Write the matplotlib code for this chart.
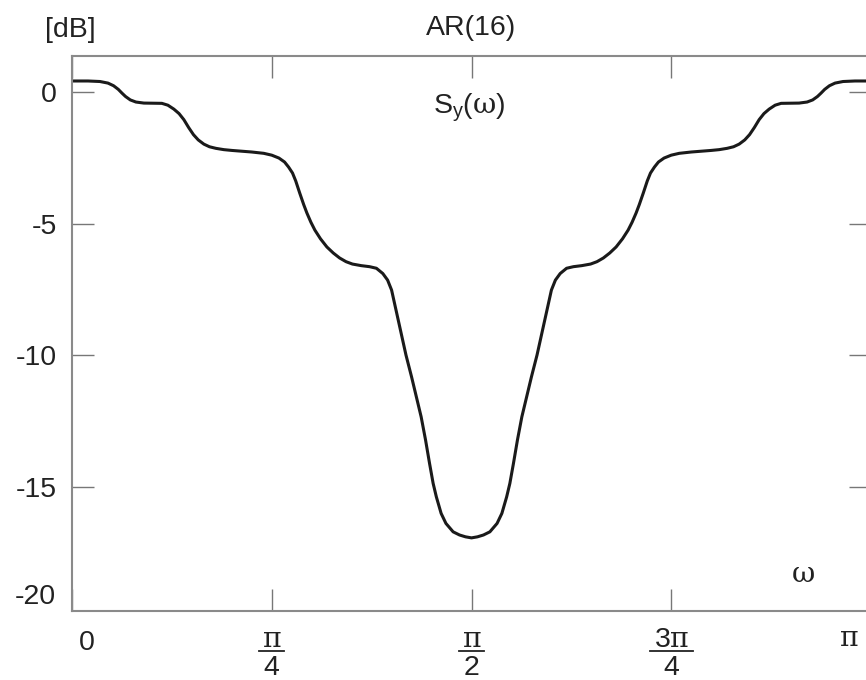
import numpy as np
import matplotlib
matplotlib.use("Agg")
import matplotlib.pyplot as plt
import matplotlib.transforms as mtransforms

plt.rcParams['font.family'] = ['Liberation Sans', 'DejaVu Sans']
plt.rcParams['mathtext.fontset'] = 'custom'
plt.rcParams['mathtext.rm'] = 'Liberation Sans'
plt.rcParams['mathtext.it'] = 'DejaVu Serif'
plt.rcParams['axes.unicode_minus'] = False

# frequency in units of pi and spectrum in dB
omega_left = [0, 0.02, 0.035, 0.045, 0.052, 0.058, 0.0625, 0.067, 0.073, 0.08, 0.09, 0.1125,
              0.12, 0.1275, 0.134, 0.14, 0.146, 0.152, 0.158, 0.165, 0.172, 0.18, 0.19, 0.2, 0.225, 0.24,
              0.25, 0.259, 0.266, 0.271, 0.276, 0.28, 0.285, 0.29, 0.294, 0.299, 0.304, 0.311, 0.319,
              0.327, 0.335, 0.343, 0.351, 0.362,
              0.3725, 0.381, 0.389, 0.395, 0.4, 0.406, 0.412, 0.418, 0.425, 0.431, 0.437, 0.4425,
              0.4475, 0.452, 0.456, 0.462, 0.468, 0.477, 0.485, 0.4925, 0.5]
db_left = [0.42, 0.42, 0.40, 0.34, 0.24, 0.10, -0.04, -0.17, -0.30, -0.38, -0.42, -0.43,
           -0.50, -0.65, -0.82, -1.05, -1.35, -1.62, -1.82, -1.98, -2.08, -2.14, -2.19, -2.22, -2.28, -2.33,
           -2.40, -2.51, -2.66, -2.85, -3.08, -3.38, -3.84, -4.28, -4.60, -4.95, -5.25, -5.58, -5.89,
           -6.12, -6.31, -6.45, -6.54, -6.60,
           -6.64, -6.70, -6.90, -7.15, -7.53, -8.35, -9.18, -10.0, -10.83, -11.59, -12.35, -13.23,
           -14.12, -14.88, -15.39, -16.02, -16.40, -16.72, -16.84, -16.91, -16.95]
omega_right = [0.5075, 0.515, 0.523, 0.532, 0.538, 0.544, 0.548, 0.5525, 0.5575, 0.563, 0.569, 0.575,
               0.582, 0.588, 0.594, 0.6, 0.605, 0.611, 0.619, 0.6275,
               0.638, 0.649, 0.657, 0.665, 0.673, 0.681, 0.689, 0.696, 0.701, 0.706, 0.71, 0.715,
               0.72, 0.724, 0.729, 0.734, 0.741, 0.75,
               0.76, 0.775, 0.8, 0.81, 0.82, 0.828, 0.835, 0.842, 0.848, 0.854, 0.86, 0.866, 0.8725, 0.88,
               0.8875, 0.91, 0.92, 0.927, 0.933, 0.9375, 0.942, 0.948, 0.955, 0.965, 0.98, 1.0]
db_right = [-16.91, -16.84, -16.72, -16.40, -16.02, -15.39, -14.88, -14.12, -13.23, -12.35, -11.59, -10.83,
            -10.0, -9.18, -8.35, -7.53, -7.15, -6.90, -6.70, -6.64,
            -6.60, -6.54, -6.45, -6.31, -6.12, -5.89, -5.58, -5.25, -4.95, -4.60, -4.28, -3.84,
            -3.38, -3.08, -2.85, -2.66, -2.51, -2.40,
            -2.33, -2.28, -2.22, -2.19, -2.14, -2.08, -1.98, -1.82, -1.62, -1.35, -1.05, -0.82, -0.65, -0.50,
            -0.43, -0.42, -0.38, -0.30, -0.17, -0.04, 0.10, 0.24, 0.34, 0.40, 0.42, 0.42]

xtick_vals = [0, np.pi / 4, np.pi / 2, 3 * np.pi / 4, np.pi]
frac_num = ['', r'$\pi$', r'$\pi$', r'$3\pi$', '']
frac_den = ['', '4', '2', '4', '']
ytick_vals = [0, -5, -10, -15]
ytick_labels = ['0', '-5', '-10', '-15']

W, H = 866, 680
FS = 20.5
TXT = '#222222'


def px(x, y):
    # pixel position (from top-left) -> figure fraction
    return x / W, 1 - y / H


fig = plt.figure(figsize=(W / 100, H / 100), dpi=100)
ax = fig.add_axes([72 / W, 69 / H, 799 / W, 555 / H])

w = np.array(omega_left + omega_right) * np.pi
db = db_left + db_right
ax.plot(w, db, color='#1a1a1a', lw=2.2, solid_capstyle='round', solid_joinstyle='round')

ax.set_xlim(0, np.pi)
ax.set_ylim(-19.73, 1.37)

ax.set_xticks(xtick_vals)
ax.set_xticklabels([])
ax.set_yticks(ytick_vals)
ax.set_yticklabels(ytick_labels)

ax.tick_params(axis='both', direction='in', length=16, width=1.0, color='#777777',
               labelsize=FS, labelcolor=TXT, top=True, right=True)
ax.tick_params(axis='y', pad=11)

for sp in ax.spines.values():
    sp.set_color('#8a8a8a')
    sp.set_linewidth(1.5)

# x tick labels drawn by hand: x from data, y in figure pixels
xt = mtransforms.blended_transform_factory(ax.transData, fig.transFigure)
data_per_px = np.pi / 799
bar_half = [0, 12.5, 12.5, 21.5, 0]
for xv, num, den, bh in zip(xtick_vals, frac_num, frac_den, bar_half):
    if den:
        ax.text(xv, 1 - 647 / H, num, transform=xt, ha='center', va='baseline',
                fontsize=FS, color=TXT, clip_on=False)
        ax.plot([xv - bh * data_per_px, xv + bh * data_per_px], [1 - 650.5 / H] * 2,
                transform=xt, color=TXT, lw=1.3, clip_on=False)
        ax.text(xv, 1 - 675 / H, den, transform=xt, ha='center', va='baseline',
                fontsize=FS, color=TXT, clip_on=False)
ax.text(0 + 14.5 * data_per_px, 1 - 650 / H, '0', transform=xt, ha='center', va='baseline',
        fontsize=FS, color=TXT, clip_on=False)
ax.text(np.pi - 22 * data_per_px, 1 - 646 / H, r'$\pi$', transform=xt, ha='center',
        va='baseline', fontsize=FS, color=TXT, clip_on=False)

# -20 label sits without a tick
fig.text(*px(56, 604), '-20', ha='right', va='baseline', fontsize=FS, color=TXT)

fig.text(*px(45, 37), '[dB]', ha='left', va='baseline', fontsize=FS, color=TXT)
fig.text(*px(471, 35), 'AR(16)', ha='center', va='baseline', fontsize=FS, color=TXT)
fig.text(*px(469, 113), r'S$_\mathrm{y}$($\omega$)', ha='center', va='baseline', fontsize=FS,
         color=TXT)
fig.text(*px(803, 582), r'$\omega$', ha='center', va='baseline', fontsize=FS, color=TXT)

fig.savefig('out.png', dpi=100)
